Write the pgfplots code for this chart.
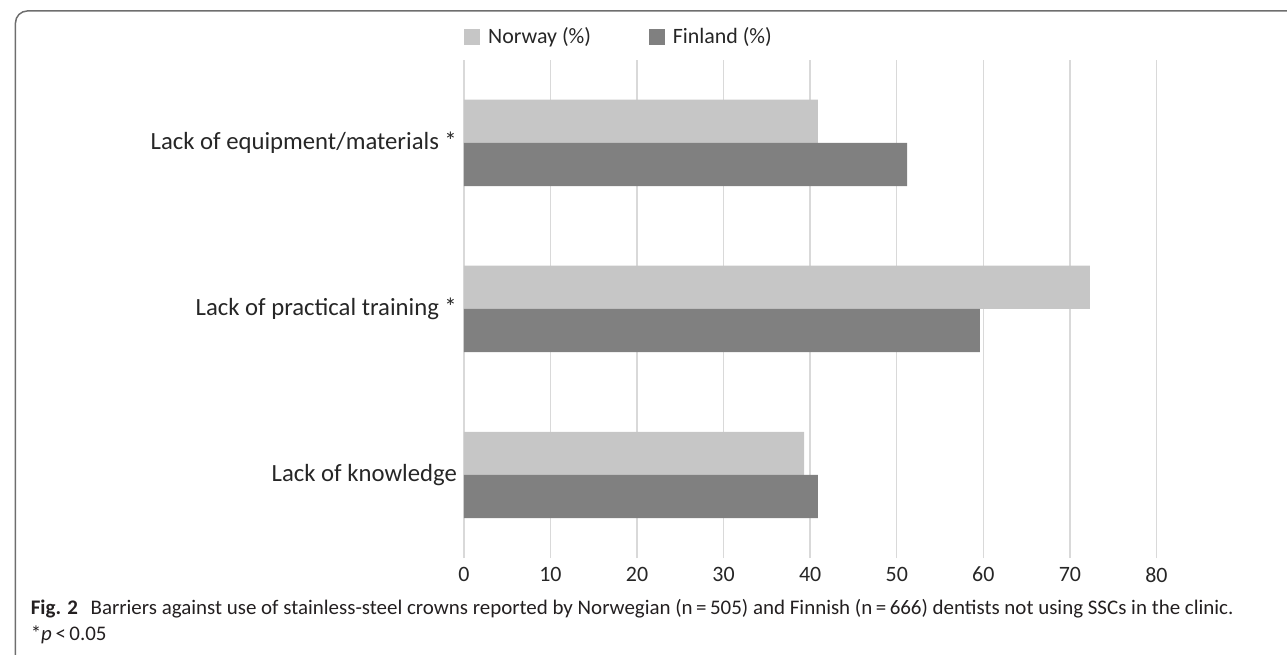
\documentclass[border=0pt]{standalone}
\usepackage{fontspec}
\setmainfont{Carlito}
\usepackage{graphicx}
\usepackage{pgfplots}
\pgfplotsset{compat=1.18}
\definecolor{nor}{HTML}{C6C6C6}
\definecolor{fin}{HTML}{808080}
\definecolor{gridc}{HTML}{D9D9D9}
\definecolor{txt}{HTML}{262626}
\definecolor{frame}{HTML}{6E6E6E}
\definecolor{capc}{HTML}{231F20}
\newlength\capw
\newcommand\capfont{\fontsize{10.4}{12}\selectfont}
\newcommand\lineone{\textbf{Fig. 2}\hspace{0.6em}Barriers against use of stainless-steel crowns reported by Norwegian (n\,=\,505) and Finnish (n\,=\,666) dentists not using SSCs in the clinic.}
\begin{document}
\settowidth\capw{\capfont\lineone}
\begin{tikzpicture}
\useasboundingbox (0,0) rectangle (643.5pt,328.5pt);
\draw[color=frame, line width=0.75pt, rounded corners=6pt] (5.5pt,-2pt) -- (5.5pt,323pt) -- (646pt,323pt);
\pgfmathsetmacro\capsc{603.5pt/\capw}
\node[anchor=base west, inner sep=0pt, text=capc] at (13pt,20pt) {\scalebox{\capsc}[1]{\capfont\lineone}};
\node[anchor=base west, inner sep=0pt, text=capc] at (13pt,7pt) {\scalebox{\capsc}[1]{\capfont *\textit{p}\,<\,0.05}};
\begin{axis}[
  at={(230.5pt,48.5pt)}, anchor=south west,
  scale only axis, width=347.5pt, height=250pt,
  xmin=0, xmax=80, ymin=-0.5, ymax=2.5,
  xbar, bar width=0.26,
  xtick={0,10,...,80},
  ytick={0,1,2},
  yticklabels={Lack of knowledge, Lack of practical training *, Lack of equipment/materials *},
  xmajorgrids, grid style={gridc, line width=0.75pt},
  axis line style={draw=none}, major tick length=0pt,
  tick label style={font=\fontsize{11}{13}\selectfont, text=txt},
  xticklabel style={yshift=-1pt},
  yticklabel style={font=\fontsize{12.4}{14}\selectfont},
  /pgf/number format/assume math mode=true,
  legend style={at={(0,1)}, anchor=west, yshift=11.5pt, draw=none, fill=none,
    legend columns=2, inner sep=0pt, font=\fontsize{11}{13}\selectfont, text=txt,
    /tikz/every odd column/.append style={column sep=2pt},
    /tikz/every even column/.append style={column sep=27pt}, cells={anchor=west}},
  legend image code/.code={\fill[#1] (0pt,-4pt) rectangle (8pt,4pt);},
]
\addplot[fill=nor, draw=none, bar shift=0.13] coordinates {(39.3,0) (72.3,1) (40.9,2)};
\addplot[fill=fin, draw=none, bar shift=-0.13] coordinates {(40.9,0) (59.6,1) (51.2,2)};
\legend{Norway (\%), Finland (\%)}
\end{axis}
\end{tikzpicture}
\end{document}
